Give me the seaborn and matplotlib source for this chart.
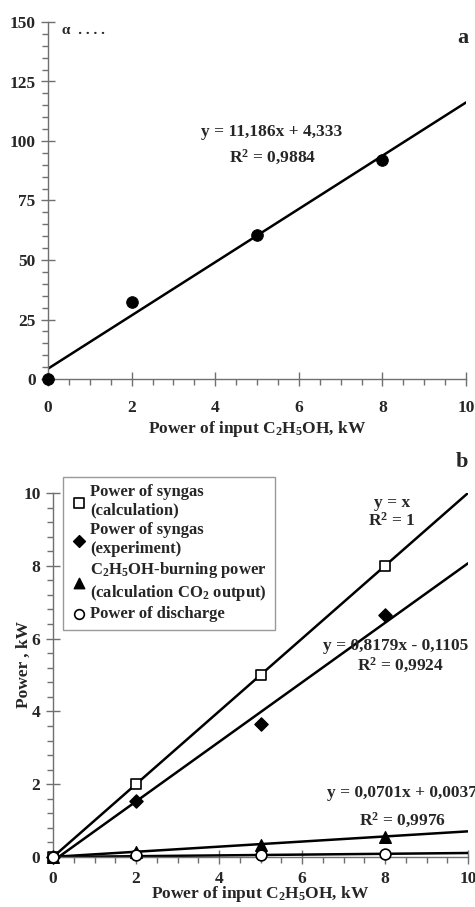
import numpy as np
import pandas as pd
import matplotlib
matplotlib.use("Agg")
import matplotlib.pyplot as plt
import seaborn as sns
from matplotlib.ticker import MultipleLocator

# ---------------- data ----------------
# panel a
a_x = [0, 2, 5, 8]
a_y = [0, 32.5, 60.5, 92]
a_slope, a_icpt = 11.186, 4.333

# panel b
b_x = [0, 2, 5, 8]
syngas_calc = [0, 2.0, 5.0, 8.0]
syngas_exp = [0, 1.55, 3.65, 6.65]
burning = [0, 0.15, 0.33, 0.55]
discharge = [0, 0.05, 0.06, 0.09]
fit_calc = (1.0, 0.0)
fit_exp = (0.8179, -0.1105)
fit_burn = (0.0701, 0.0037)
fit_dis = (0.011, 0.0)
legend_labels = ["Power of syngas\n(calculation)",
                 "Power of syngas\n(experiment)",
                 "C$_2$H$_5$OH-burning power\n(calculation CO$_2$ output)",
                 "Power of discharge"]
line_x = [0, 10]

sns.set_theme(style="ticks")
plt.rcParams['font.family'] = ['Liberation Serif', 'DejaVu Serif']
plt.rcParams['font.weight'] = 'bold'
plt.rcParams['mathtext.fontset'] = 'custom'
plt.rcParams['mathtext.rm'] = 'Liberation Serif:bold'
plt.rcParams['mathtext.bf'] = 'Liberation Serif:bold'
plt.rcParams['mathtext.it'] = 'Liberation Serif:bold:italic'

fig = plt.figure(figsize=(4.75, 9.07), dpi=100)
W, H = 475, 907
def ax_rect(x0, x1, ytop, ybot):
    return [x0 / W, 1 - ybot / H, (x1 - x0) / W, (ybot - ytop) / H]

axa = fig.add_axes(ax_rect(48, 466, 22, 379))
axb = fig.add_axes(ax_rect(53, 468, 493, 857))

def style(ax, xmin, ymaj, ymin, xpad):
    for s in ['top', 'right']:
        ax.spines[s].set_visible(False)
    for s in ['left', 'bottom']:
        ax.spines[s].set_color('#707070')
        ax.spines[s].set_linewidth(1.0)
    ax.xaxis.set_major_locator(MultipleLocator(2))
    ax.xaxis.set_minor_locator(MultipleLocator(xmin))
    ax.yaxis.set_major_locator(MultipleLocator(ymaj))
    ax.yaxis.set_minor_locator(MultipleLocator(ymin))
    ax.tick_params(which='major', direction='inout', length=10, width=1.0,
                   color='#707070', labelsize=12.5, pad=4)
    ax.tick_params(axis='x', which='major', pad=xpad)
    ax.tick_params(which='minor', direction='out', length=4, width=1.0,
                   color='#707070')
    for lab in ax.get_xticklabels() + ax.get_yticklabels():
        lab.set_fontweight('bold')

def ftxt(x, y, s, size=12.5, ha='center'):
    fig.text(x / W, 1 - y / H, s, fontsize=size, fontweight='bold', ha=ha,
             va='center')

# ---------------- panel a ----------------
lx = np.array(line_x, dtype=float)
sns.lineplot(x=lx, y=a_slope * lx + a_icpt, ax=axa, color='black', lw=1.8)
sns.scatterplot(x=a_x, y=a_y, ax=axa, color='black', s=70, edgecolor='black',
                zorder=5, clip_on=False)
axa.set_xlim(0, 10)
axa.set_ylim(0, 150)
style(axa, 0.5, 25, 5, xpad=10)
axa.set_xlabel("Power of input C$_2$H$_5$OH, kW", fontsize=12.5, fontweight='bold',
               labelpad=2)
axa.set_ylabel("")
ftxt(272, 132, "y = 11,186x + 4,333")
ftxt(273, 157, "R$^2$ = 0,9884")
ftxt(62, 31, "α  . . . .", size=11, ha='left')
ftxt(463, 38, "a", size=16)

# ---------------- panel b ----------------
for (m, c) in [fit_calc, fit_exp, fit_burn, fit_dis]:
    sns.lineplot(x=lx, y=m * lx + c, ax=axb, color='black', lw=1.8)
h1 = axb.scatter(b_x, syngas_calc, marker='s', facecolor='white', edgecolor='black',
                 s=55, linewidth=1.2, zorder=5, clip_on=False,
                 label=legend_labels[0])
h2 = axb.scatter(b_x, syngas_exp, marker='D', color='black', s=45, zorder=5,
                 clip_on=False, label=legend_labels[1])
h3 = axb.scatter(b_x, burning, marker='^', color='black', s=70, zorder=5,
                 clip_on=False, label=legend_labels[2])
h4 = axb.scatter(b_x, discharge, marker='o', facecolor='white', edgecolor='black',
                 s=60, linewidth=1.2, zorder=5, clip_on=False,
                 label=legend_labels[3])
axb.set_xlim(0, 10)
axb.set_ylim(0, 10)
style(axb, 0.5, 2, 0.4, xpad=5)
axb.set_xlabel("Power of input C$_2$H$_5$OH, kW", fontsize=12.5, fontweight='bold',
               labelpad=-2)
axb.set_ylabel("Power , kW", fontsize=12.5, fontweight='bold')
axb.yaxis.set_label_coords(-0.05, 0.53)
leg = axb.legend(handles=[h1, h2, h3, h4], loc='upper left',
                 bbox_to_anchor=(0.024, 1.044), borderaxespad=0,
                 frameon=True, fancybox=False,
                 prop={'family': 'Liberation Serif', 'weight': 'bold', 'size': 12},
                 handletextpad=0.2, handlelength=1.0, labelspacing=0.2,
                 borderpad=0.45, markerscale=0.9)
leg.get_frame().set_edgecolor('#808080')
leg.get_frame().set_linewidth(1.0)

ftxt(392, 503, "y = x")
ftxt(392, 521, "R$^2$ = 1")
ftxt(396, 646, "y = 0,8179x - 0,1105")
ftxt(400, 665, "R$^2$ = 0,9924")
ftxt(327, 793, "y = 0,0701x + 0,0037", ha='left')
ftxt(403, 820, "R$^2$ = 0,9976")
ftxt(462, 462, "b", size=16)

fig.savefig("out.png", dpi=100)
